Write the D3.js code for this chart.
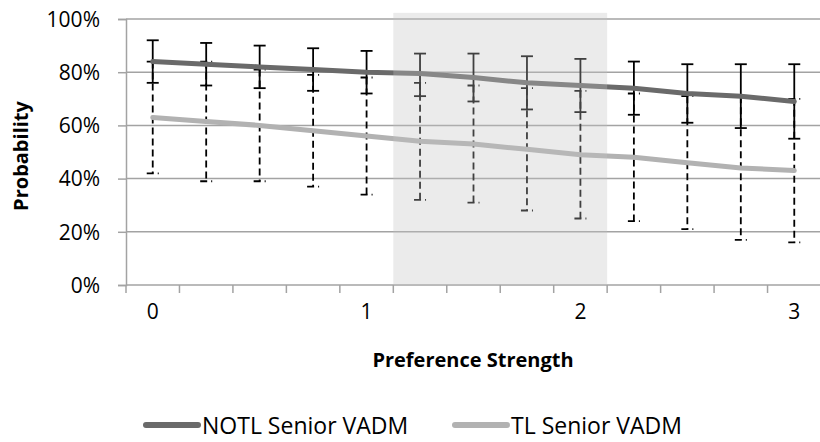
<!DOCTYPE html>
<html>
<head>
    <meta charset="utf-8">
    <title>Preference Strength</title>
    <script src="https://d3js.org/d3.v7.min.js"></script>
    <style>
        body { margin: 0; background: #fff; }
        text { font-family: "Open Sans", sans-serif; fill: #000; }
        .tick-label { font-size: 21px; }
        .axis-title { font-size: 20px; font-weight: bold; }
        .legend-label { font-size: 23px; }
    </style>
</head>
<body>
    <div id="chart"></div>

    <script>
        // 数据
        const categories = ["0", "0.25", "0.5", "0.75", "1", "1.25", "1.5", "1.75", "2", "2.25", "2.5", "2.75", "3"];
        const xLabels = {"0": "0", "1": "1", "2": "2", "3": "3"};
        const yTicks = [0, 0.2, 0.4, 0.6, 0.8, 1.0];

        const notl = [0.84, 0.83, 0.82, 0.81, 0.80, 0.795, 0.78, 0.76, 0.75, 0.74, 0.72, 0.71, 0.69];
        const notlHigh = [0.92, 0.91, 0.90, 0.89, 0.88, 0.87, 0.87, 0.86, 0.85, 0.84, 0.83, 0.83, 0.83];
        const notlLow = [0.76, 0.75, 0.74, 0.73, 0.72, 0.71, 0.69, 0.66, 0.65, 0.64, 0.61, 0.59, 0.55];

        const tl = [0.63, 0.615, 0.60, 0.58, 0.56, 0.54, 0.53, 0.51, 0.49, 0.48, 0.46, 0.44, 0.43];
        const tlHigh = [0.84, 0.84, 0.81, 0.79, 0.78, 0.76, 0.75, 0.74, 0.73, 0.72, 0.71, 0.71, 0.70];
        const tlLow = [0.42, 0.39, 0.39, 0.37, 0.34, 0.32, 0.31, 0.28, 0.25, 0.24, 0.21, 0.17, 0.16];

        // 阴影区域
        const shadeCats = ["1.25", "1.5", "1.75", "2"];
        const shadeTop = 1.023;

        const seriesNames = ["NOTL Senior VADM", "TL Senior VADM"];

        const width = 820, height = 442;
        const svg = d3.select("#chart").append("svg")
            .attr("width", width).attr("height", height);

        const x = d3.scaleBand().domain(categories).range([126, 821]).padding(0);
        const y = d3.scaleLinear().domain([0, 1]).range([285, 19]);
        const cx = c => x(c) + x.bandwidth() / 2;

        // 网格线
        svg.append("g").selectAll("line")
            .data(yTicks.slice(1))
            .join("line")
            .attr("x1", 126).attr("x2", width)
            .attr("y1", d => y(d)).attr("y2", d => y(d))
            .attr("stroke", "#a3a3a3").attr("stroke-width", 1.5);

        // y轴
        const yAxis = svg.append("g")
            .attr("transform", "translate(126,0)")
            .call(d3.axisLeft(y).tickValues(yTicks).tickFormat(d3.format(".0%")).tickSize(8).tickPadding(18));
        yAxis.select(".domain").attr("stroke", "#a3a3a3").attr("stroke-width", 1.5);
        yAxis.selectAll(".tick line").attr("stroke", "#a3a3a3").attr("stroke-width", 1.5);
        yAxis.selectAll(".tick text").attr("class", "tick-label").attr("font-family", null).attr("font-size", null)
            .attr("dy", "0.35em");

        // x轴
        const xAxisG = svg.append("g").attr("transform", "translate(0,285)");
        xAxisG.append("line").attr("x1", 126).attr("x2", width)
            .attr("stroke", "#a3a3a3").attr("stroke-width", 1.5);
        const bounds = categories.map(c => x(c)).concat([x.range()[1]]);
        xAxisG.selectAll(".xt").data(bounds).join("line")
            .attr("class", "xt")
            .attr("x1", d => d).attr("x2", d => d)
            .attr("y1", 0).attr("y2", 8)
            .attr("stroke", "#a3a3a3").attr("stroke-width", 1.5);
        xAxisG.selectAll(".xl").data(categories.filter(c => xLabels[c])).join("text")
            .attr("class", "tick-label")
            .attr("x", d => cx(d)).attr("y", 34)
            .attr("text-anchor", "middle")
            .text(d => xLabels[d]);

        // 误差线
        function errorBars(vals, hi, lo, dash) {
            const g = svg.append("g")
                .attr("stroke", "#000").attr("stroke-width", 1.8).attr("fill", "none");
            if (dash) g.attr("stroke-dasharray", dash);
            categories.forEach((c, i) => {
                const px = cx(c);
                g.append("line").attr("x1", px).attr("x2", px).attr("y1", y(hi[i])).attr("y2", y(lo[i]));
                [hi[i], lo[i]].forEach(v => {
                    g.append("line").attr("x1", px - 6).attr("x2", px + 6)
                        .attr("y1", y(v)).attr("y2", y(v));
                });
            });
        }
        errorBars(tl, tlHigh, tlLow, "7,4");
        errorBars(notl, notlHigh, notlLow, null);

        // 折线
        const line = d3.line().x((d, i) => cx(categories[i])).y(d => y(d));
        svg.append("path").datum(tl).attr("d", line)
            .attr("fill", "none").attr("stroke", "#b2b2b2").attr("stroke-width", 5).attr("stroke-linecap", "round");
        svg.append("path").datum(notl).attr("d", line)
            .attr("fill", "none").attr("stroke", "#6a6a6a").attr("stroke-width", 5).attr("stroke-linecap", "round");

        // 阴影覆盖
        svg.append("rect")
            .attr("x", x(shadeCats[0]))
            .attr("width", x(shadeCats[shadeCats.length - 1]) + x.bandwidth() - x(shadeCats[0]))
            .attr("y", y(shadeTop))
            .attr("height", y(0) - y(shadeTop))
            .attr("fill", "rgb(195,195,195)").attr("fill-opacity", 0.33);

        // 轴标题
        svg.append("text").attr("class", "axis-title")
            .attr("x", 473).attr("y", 367).attr("text-anchor", "middle")
            .text("Preference Strength");
        svg.append("text").attr("class", "axis-title")
            .attr("transform", "translate(28,156) rotate(-90)").attr("text-anchor", "middle")
            .text("Probability");

        // 图例
        const legendColors = ["#6a6a6a", "#b2b2b2"];
        const legendX = [143, 452];
        seriesNames.forEach((name, i) => {
            const lg = svg.append("g").attr("transform", `translate(${legendX[i]},425)`);
            lg.append("line").attr("x1", 3).attr("x2", 55)
                .attr("stroke", legendColors[i]).attr("stroke-width", 6).attr("stroke-linecap", "round");
            lg.append("text").attr("class", "legend-label")
                .attr("x", 59).attr("y", 9).text(name);
        });
    </script>
</body>
</html>
